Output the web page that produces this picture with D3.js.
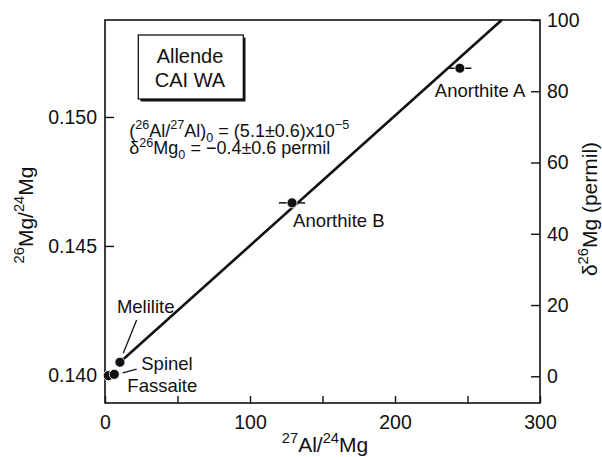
<!DOCTYPE html>
<html>
<head>
<meta charset="utf-8">
<script src="https://d3js.org/d3.v7.min.js"></script>
<style>
body { margin: 0; background: #fff; }
text { font-family: "Liberation Sans", Arial, Helvetica, sans-serif; fill: #111; }
</style>
</head>
<body>
<svg id="drawing_region"></svg>
<script>
// Allende CAI WA, Al-Mg isochron
const minerals = ['Fassaite', 'Spinel', 'Melilite', 'Anorthite B', 'Anorthite A'];
const alMg     = [2.3, 6.4, 10.3, 129, 244.7];                  // 27Al/24Mg
const mgRatio  = [0.13997, 0.14002, 0.14049, 0.14667, 0.15189]; // 26Mg/24Mg
const alMgErr  = [0, 0, 0, 9, 8];

// isochron line end points (27Al/24Mg, 26Mg/24Mg)
const fitX = [10.3, 273.6];
const fitY = [0.14049, 0.15376];

const xTicks = [0, 50, 100, 150, 200, 250, 300];
const yTicks = [0.140, 0.145, 0.150];
const deltaTicks = [0, 20, 40, 60, 80, 100];

const points = minerals.map((m, i) => ({ name: m, x: alMg[i], y: mgRatio[i], err: alMgErr[i] }));

// label offsets (px) from each point, plus leader lines
const labelLayout = {
    'Fassaite':    { dx: 19, dy: 16 },
    'Spinel':      { dx: 27, dy: -4, lead: [8.4, -1.6, 22.4, -5.3] },
    'Melilite':    { dx: -3, dy: -49, lead: [3.3, -9, 16.7, -42.3] },
    'Anorthite B': { dx: 1, dy: 24 },
    'Anorthite A': { dx: -25, dy: 29 }
};

const config = {
    width: 602, height: 457,
    left: 105, right: 540, top: 20, bottom: 403
};

const svg = d3.select('#drawing_region')
    .attr('width', config.width)
    .attr('height', config.height);

const xscale = d3.scaleLinear().domain([0, 300]).range([config.left, config.right]);
const yscale = d3.scaleLinear().domain([0.13891, 0.15376]).range([config.bottom, config.top]);
const dscale = d3.scaleLinear().domain([-7.5, 100]).range([config.bottom, config.top]);

// superscript / subscript helper
function rich(text, parts, size) {
    let shift = 0;
    parts.forEach(p => {
        const [t, kind] = typeof p === 'string' ? [p, null] : p;
        const target = kind === 'sup' ? -size * 0.42 : kind === 'sub' ? size * 0.28 : 0;
        text.append('tspan')
            .attr('dy', target - shift)
            .attr('font-size', kind ? size * 0.7 : size)
            .text(t);
        shift = target;
    });
}

// frame
svg.append('rect')
    .attr('x', config.left).attr('y', config.top)
    .attr('width', config.right - config.left)
    .attr('height', config.bottom - config.top)
    .attr('fill', 'none').attr('stroke', '#111').attr('stroke-width', 1.6);

const tickFont = 19.5;

const xaxis = d3.axisBottom(xscale)
    .tickValues(xTicks)
    .tickSize(-7)
    .tickPadding(12)
    .tickFormat(d => d % 100 === 0 ? d : '');
svg.append('g')
    .attr('transform', `translate(0, ${config.bottom})`)
    .call(xaxis);

const yaxis = d3.axisLeft(yscale)
    .tickValues(yTicks)
    .tickSize(-9)
    .tickPadding(8)
    .tickFormat(d3.format('.3f'));
svg.append('g')
    .attr('transform', `translate(${config.left}, 0)`)
    .call(yaxis);

const daxis = d3.axisRight(dscale)
    .tickValues(deltaTicks)
    .tickSize(-9)
    .tickPadding(7)
    .tickFormat(d => d);
svg.append('g')
    .attr('transform', `translate(${config.right}, 0)`)
    .call(daxis);

svg.selectAll('.domain').remove();
svg.selectAll('.tick line').attr('stroke', '#111').attr('stroke-width', 1.4);
svg.selectAll('.tick text')
    .style('font-size', tickFont + 'px')
    .style('font-family', '"Liberation Sans", Arial, sans-serif')
    .attr('fill', '#111');

// axis titles
const titleFont = 21;
const xlabel = svg.append('text')
    .attr('x', 325).attr('y', 452)
    .attr('text-anchor', 'middle')
    .style('font-size', titleFont + 'px');
rich(xlabel, [['27', 'sup'], 'Al/', ['24', 'sup'], 'Mg'], titleFont);

const ylabel = svg.append('text')
    .attr('transform', 'translate(33, 215) rotate(-90)')
    .attr('text-anchor', 'middle')
    .style('font-size', titleFont + 'px');
rich(ylabel, [['26', 'sup'], 'Mg/', ['24', 'sup'], 'Mg'], titleFont);

const dlabel = svg.append('text')
    .attr('transform', 'translate(597, 209) rotate(-90)')
    .attr('text-anchor', 'middle')
    .style('font-size', titleFont + 'px');
rich(dlabel, ['δ', ['26', 'sup'], 'Mg (permil)'], titleFont);

// isochron
const line = d3.line()
    .x(d => xscale(d[0]))
    .y(d => yscale(d[1]));
svg.append('path')
    .attr('d', line(fitX.map((x, i) => [x, fitY[i]])))
    .attr('stroke', '#111')
    .attr('stroke-width', 2.6)
    .attr('fill', 'none');

// error bars
svg.selectAll('.err')
    .data(points.filter(d => d.err > 0))
    .enter()
    .append('line')
    .attr('x1', d => xscale(d.x - d.err))
    .attr('x2', d => xscale(d.x + d.err))
    .attr('y1', d => yscale(d.y))
    .attr('y2', d => yscale(d.y))
    .attr('stroke', '#111')
    .attr('stroke-width', 1.5);

// points
svg.selectAll('.pt')
    .data(points)
    .enter()
    .append('circle')
    .attr('cx', d => xscale(d.x))
    .attr('cy', d => yscale(d.y))
    .attr('r', 5)
    .attr('fill', '#111')
    .attr('stroke', '#fff')
    .attr('stroke-width', 0.8);

// point labels
const labelFont = 18.5;
svg.selectAll('.lbl')
    .data(points)
    .enter()
    .append('text')
    .attr('x', d => xscale(d.x) + labelLayout[d.name].dx)
    .attr('y', d => yscale(d.y) + labelLayout[d.name].dy)
    .style('font-size', labelFont + 'px')
    .text(d => d.name);

svg.selectAll('.lead')
    .data(points.filter(d => labelLayout[d.name].lead))
    .enter()
    .append('line')
    .attr('x1', d => xscale(d.x) + labelLayout[d.name].lead[0])
    .attr('y1', d => yscale(d.y) + labelLayout[d.name].lead[1])
    .attr('x2', d => xscale(d.x) + labelLayout[d.name].lead[2])
    .attr('y2', d => yscale(d.y) + labelLayout[d.name].lead[3])
    .attr('stroke', '#111')
    .attr('stroke-width', 1.3);

// sample box with drop shadow
svg.append('rect')
    .attr('x', 140.5).attr('y', 37.5).attr('width', 105).attr('height', 64)
    .attr('fill', '#111');
svg.append('rect')
    .attr('x', 138.3).attr('y', 35).attr('width', 105).attr('height', 64)
    .attr('fill', '#fff').attr('stroke', '#111').attr('stroke-width', 1.3);
svg.append('text')
    .attr('x', 190).attr('y', 62.7)
    .attr('text-anchor', 'middle')
    .style('font-size', '20px')
    .text('Allende');
svg.append('text')
    .attr('x', 190).attr('y', 87.3)
    .attr('text-anchor', 'middle')
    .style('font-size', '20px')
    .text('CAI WA');

// isochron parameters
const fFont = 18;
const f1 = svg.append('text')
    .attr('x', 129.3).attr('y', 136.7)
    .style('font-size', fFont + 'px');
rich(f1, ['(', ['26', 'sup'], 'Al/', ['27', 'sup'], 'Al)', ['0', 'sub'], ' = (5.1±0.6)x10', ['−5', 'sup']], fFont);

const f2 = svg.append('text')
    .attr('x', 129.3).attr('y', 154.3)
    .style('font-size', fFont + 'px');
rich(f2, ['δ', ['26', 'sup'], 'Mg', ['0', 'sub'], ' = −0.4±0.6 permil'], fFont);
</script>
</body>
</html>
